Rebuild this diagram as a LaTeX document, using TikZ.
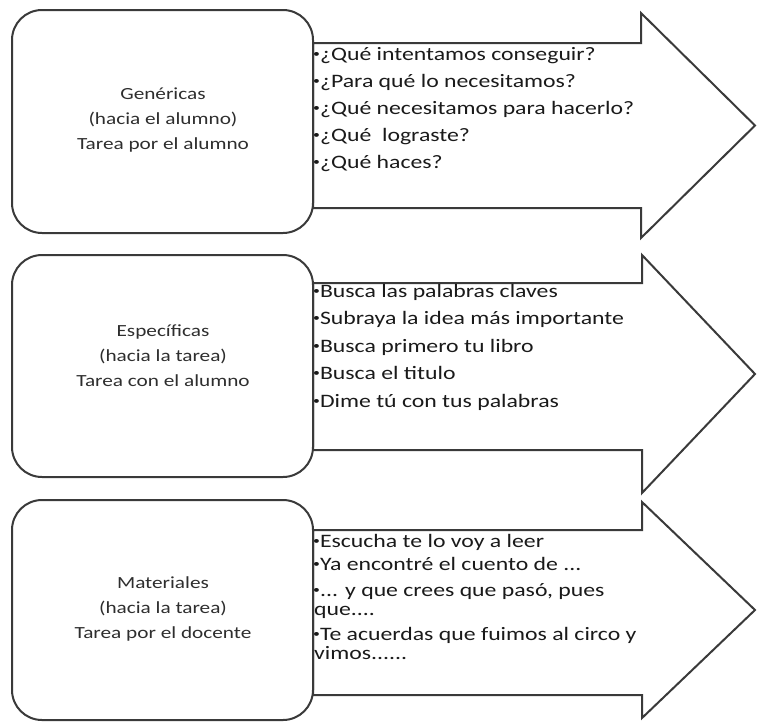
\documentclass[tikz,border=0pt]{standalone}
\usepackage{fontspec}
\setmainfont{Carlito}[FakeStretch=1.25]
\definecolor{ink}{HTML}{3A3A3A}
\definecolor{txt}{HTML}{1A1A1A}
\definecolor{soft}{HTML}{2E2E2E}
\tikzset{
  boxshape/.style={draw=ink, line width=2pt, rounded corners=30pt, fill=white, inner sep=0pt},
  arr/.style={draw=ink, line width=2pt, line join=miter, fill=white},
  item/.style={anchor=base west, inner sep=0pt, text=txt, font=\fontsize{19}{20}\selectfont},
  lbl/.style={align=center, inner sep=0pt, text=soft, font=\fontsize{17}{25}\selectfont},
}
\newcommand\bul{\raisebox{2.6pt}{\fontsize{11}{11}\selectfont\textbullet}}
\begin{document}
\begin{tikzpicture}[x=1pt,y=-1pt]
\useasboundingbox (0,0) rectangle (757,723);
% arrows
\draw[arr] (313,43) -- (641,43) -- (641,13) -- (755,125.5) -- (641,238) -- (641,208) -- (313,208) -- cycle;
\draw[arr] (313,283) -- (642,283) -- (642,255) -- (755,374) -- (642,493) -- (642,450) -- (313,450) -- cycle;
\draw[arr] (313,530) -- (642,530) -- (642,502) -- (755,610) -- (642,718) -- (642,695) -- (313,695) -- cycle;
% boxes
\node[boxshape, minimum width=301pt, minimum height=223pt] (b1) at (162.5,121.5) {};
\node[boxshape, minimum width=301pt, minimum height=222pt] (b2) at (162.5,366) {};
\node[boxshape, minimum width=301pt, minimum height=220pt] (b3) at (162.5,610) {};
% labels
\node[lbl] (l1) at (163,120) {Genéricas\\(hacia el alumno)\\Tarea por el alumno};
\node[lbl] (l2) at (163,356) {Específicas\\(hacia la tarea)\\Tarea con el alumno};
\node[lbl] (l3) at (163,609) {Materiales\\(hacia la tarea)\\Tarea por el docente};
% items arrow 1
\node[item] (a11) at (313,60) {\bul¿Qué intentamos conseguir?};
\node[item] (a12) at (313,87) {\bul¿Para qué lo necesitamos?};
\node[item] (a13) at (313,114) {\bul¿Qué necesitamos para hacerlo?};
\node[item] (a14) at (313,141) {\bul¿Qué\ \ lograste?};
\node[item] (a15) at (313,168) {\bul¿Qué haces?};
% items arrow 2
\node[item] (a21) at (313,297) {\bul Busca las palabras claves};
\node[item] (a22) at (313,324.5) {\bul Subraya la idea más importante};
\node[item] (a23) at (313,352) {\bul Busca primero tu libro};
\node[item] (a24) at (313,379.5) {\bul Busca el titulo};
\node[item] (a25) at (313,407) {\bul Dime tú con tus palabras};
% items arrow 3
\node[item] (a31) at (313,547) {\bul Escucha te lo voy a leer};
\node[item] (a32) at (313,570) {\bul Ya encontré el cuento de ...};
\node[item] (a33) at (313,596) {\bul... y que crees que pasó, pues};
\node[item] (a34) at (314,615) {que....};
\node[item] (a35) at (313,640) {\bul Te acuerdas que fuimos al circo y};
\node[item] (a36) at (314,659) {vimos......};
\end{tikzpicture}
\end{document}
